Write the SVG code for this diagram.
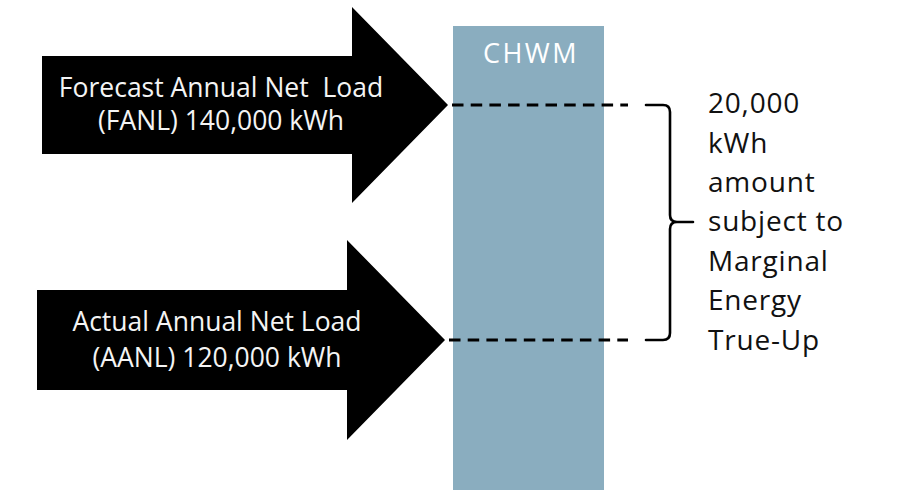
<svg xmlns="http://www.w3.org/2000/svg" width="898" height="490" viewBox="0 0 898 490">
  <style>
    .arrow { fill: #000; }
    .arrow-label { fill: #f4f4f4; font-family: "Open Sans", "Liberation Sans", sans-serif; font-size: 26.5px; text-anchor: middle; }
    .bar { fill: #8aadbf; }
    .bar-label { fill: #fff; font-family: "Open Sans", "Liberation Sans", sans-serif; font-size: 27px; text-anchor: middle; letter-spacing: 2.5px; }
    .guide { stroke: #000; stroke-width: 3; stroke-dasharray: 11.5 7.2; fill: none; }
    .brace { stroke: #000; stroke-width: 2.6; fill: none; stroke-linecap: round; stroke-linejoin: round; }
    .note { fill: #111; font-family: "Open Sans", "Liberation Sans", sans-serif; font-size: 28px; letter-spacing: 0.8px; }
  </style>
  <rect width="898" height="490" fill="#fff"/>

  <!-- CHWM meter column -->
  <g id="chwm">
    <rect class="bar" x="453" y="26" width="151" height="464"/>
    <text class="bar-label" x="531" y="63">CHWM</text>
  </g>

  <!-- Forecast arrow -->
  <g id="fanl">
    <polygon class="arrow" points="42,56 352,56 352,7 448,105 352,203 352,154 42,154"/>
    <text class="arrow-label" x="221" y="97" xml:space="preserve">Forecast Annual Net  Load</text>
    <text class="arrow-label" x="221" y="130">(FANL) 140,000 kWh</text>
  </g>

  <!-- Actual arrow -->
  <g id="aanl">
    <polygon class="arrow" points="37,290 347,290 347,240 445,340 347,440 347,390 37,390"/>
    <text class="arrow-label" x="217" y="331">Actual Annual Net Load</text>
    <text class="arrow-label" x="217" y="367">(AANL) 120,000 kWh</text>
  </g>

  <!-- Level guides and brace -->
  <g id="connectors">
    <line class="guide" x1="452" y1="105" x2="628" y2="105"/>
    <line class="guide" x1="449" y1="340" x2="628" y2="340"/>
    <path class="brace" d="M646,105 H663 Q670,105 670,112 V215 Q670,222 677,222 Q670,222 670,229 V333 Q670,340 663,340 H646 M677,222 H693"/>
  </g>

  <!-- Difference note -->
  <g id="note">
    <text class="note" x="708" y="113">20,000</text>
    <text class="note" x="708" y="153">kWh</text>
    <text class="note" x="708" y="192">amount</text>
    <text class="note" x="708" y="231">subject to</text>
    <text class="note" x="708" y="271">Marginal</text>
    <text class="note" x="708" y="310">Energy</text>
    <text class="note" x="708" y="350">True-Up</text>
  </g>
</svg>
